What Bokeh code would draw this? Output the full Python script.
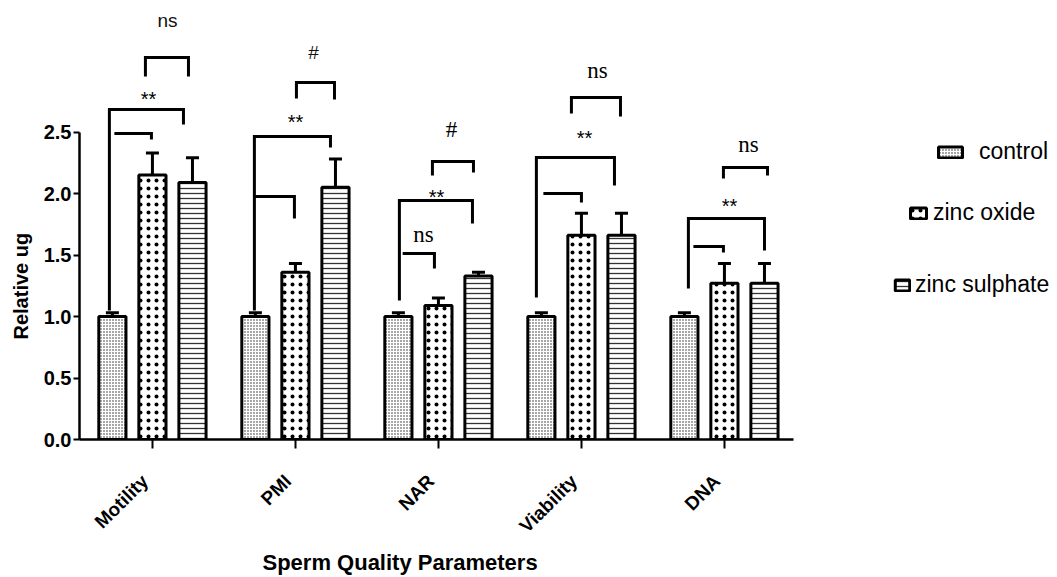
import math
from bokeh.plotting import figure
from bokeh.models import (ColumnDataSource, Range1d, FixedTicker, Whisker, TeeHead,
                          Legend, LegendItem, Title, NumeralTickFormatter)
from bokeh.core.properties import value
from bokeh.embed import file_html
from bokeh.resources import INLINE

# ---------------- data ----------------
categories = ["Motility", "PMI", "NAR", "Viability", "DNA"]
series_names = ["control", "zinc oxide", "zinc sulphate"]
control_mean = [1.00, 1.00, 1.00, 1.00, 1.00]
control_err = [0.03, 0.03, 0.03, 0.03, 0.03]
zno_mean = [2.15, 1.36, 1.09, 1.66, 1.27]
zno_err = [0.18, 0.07, 0.06, 0.18, 0.16]
znso4_mean = [2.09, 2.05, 1.33, 1.66, 1.27]
znso4_err = [0.20, 0.23, 0.03, 0.18, 0.16]
y_ticks = [0.0, 0.5, 1.0, 1.5, 2.0, 2.5]

# significance brackets: (x_left, x_right, y_top, y_left_end, y_right_end)
brackets = [
    (-0.049, 0.252, 3.106, 2.951, 2.951),
    (-0.301, 0.217, 2.683, 1.049, 2.561),
    (-0.266, -0.007, 2.488, 2.488, 2.439),
    (1.007, 1.273, 2.902, 2.772, 2.764),
    (0.713, 1.245, 2.463, 1.049, 2.374),
    (0.713, 0.993, 1.976, 1.976, 1.797),
    (1.958, 2.245, 2.260, 2.146, 2.171),
    (1.727, 2.238, 1.943, 1.130, 1.756),
    (1.750, 1.972, 1.512, 1.512, 1.390),
    (2.930, 3.273, 2.780, 2.650, 2.626),
    (2.685, 3.231, 2.293, 1.154, 2.065),
    (2.734, 3.000, 2.000, 2.000, 1.927),
    (3.993, 4.301, 2.211, 2.122, 2.146),
    (3.748, 4.280, 1.797, 1.228, 1.537),
    (3.783, 3.993, 1.569, 1.569, 1.520),
]
star_labels = ["**", "**", "**", "**", "**"]
star_x = [-0.028, 1.000, 1.986, 3.021, 4.035]
star_y = [2.813, 2.618, 2.016, 2.488, 1.935]
sans_labels = ["ns", "#"]
sans_x = [0.105, 1.126]
sans_y = [3.407, 3.146]
serif_labels = ["#", "ns", "ns", "ns"]
serif_x = [2.091, 1.895, 3.112, 4.168]
serif_y = [2.520, 1.667, 3.000, 2.398]

# ---------------- layout ----------------
W, H = 1055, 575
FL = 79          # frame left (canvas px)
FB = 439         # frame bottom (canvas px)
PX_X = 143.0
PX_Y = 123.0
x_start = -0.51
x_end = x_start + (W - FL) / PX_X
y_end = FB / PX_Y

p = figure(width=W, height=H, x_range=Range1d(x_start, x_end), y_range=Range1d(0, y_end),
           output_backend="svg", toolbar_location=None,
           min_border_left=FL, min_border_right=0, min_border_top=0, min_border_bottom=H - FB)
p.outline_line_color = None
p.xgrid.visible = False
p.ygrid.visible = False
p.background_fill_color = "white"

FONT = "Liberation Sans"

offsets = [-0.28, 0.0, 0.28]
means = [control_mean, zno_mean, znso4_mean]
errs = [control_err, zno_err, znso4_err]
hatches = [dict(hatch_pattern="dot", hatch_scale=3, hatch_weight=3, hatch_color="#222222"),
           dict(hatch_pattern="dot", hatch_scale=8, hatch_weight=5, hatch_color="black"),
           dict(hatch_pattern="horizontal_line", hatch_scale=5, hatch_weight=1.3, hatch_color="#333333")]

renderers = []
for k in range(3):
    xs = [i + offsets[k] for i in range(len(categories))]
    src = ColumnDataSource(dict(x=xs, top=means[k],
                                upper=[m + e for m, e in zip(means[k], errs[k])]))
    w = Whisker(base="x", upper="upper", lower="top", source=src, dimension="height",
                line_color="black", line_width=3,
                upper_head=TeeHead(size=13, line_width=3, line_color="black"), lower_head=None)
    p.add_layout(w)
    r = p.vbar(x="x", top="top", width=0.19, bottom=0, source=src, fill_color="white",
               line_color="black", line_width=3, **hatches[k])
    renderers.append(r)

# brackets
bxs, bys = [], []
for (xl, xr, yt, yl, yr) in brackets:
    bxs.append([xl, xl, xr, xr])
    bys.append([yl, yt, yt, yr])
p.multi_line(bxs, bys, line_color="black", line_width=3, line_join="miter", line_cap="butt")

p.text(star_x, star_y, text=star_labels, text_align="center", text_baseline="middle",
       text_font=value(FONT), text_font_size="20px", text_color="black", y_offset=5)
p.text(sans_x, sans_y, text=sans_labels, text_align="center", text_baseline="middle",
       text_font=value(FONT), text_font_size="19px", text_color="#111111")
p.text(serif_x, serif_y, text=serif_labels, text_align="center", text_baseline="middle",
       text_font=value("Liberation Serif"), text_font_size="23px", text_color="black")

# axes
for ax in (p.xaxis[0], p.yaxis[0]):
    ax.axis_line_width = 2.5
    ax.major_tick_line_width = 2
    ax.minor_tick_line_color = None
    ax.major_tick_in = 0
    ax.major_label_text_font = FONT
    ax.major_label_text_font_style = "bold"
    ax.major_label_text_color = "black"

NB = "\u00a0\u00a0"
p.xaxis.ticker = FixedTicker(ticks=list(range(len(categories))))
p.xaxis.major_label_overrides = {i: c + NB for i, c in enumerate(categories)}
p.xaxis.bounds = (x_start, 4.48)
p.xaxis.major_label_orientation = math.pi / 4
p.xaxis.major_tick_out = 9
p.xaxis.major_label_text_font_size = "19px"
p.xaxis.major_label_standoff = 22

p.yaxis.ticker = FixedTicker(ticks=y_ticks)
p.yaxis.formatter = NumeralTickFormatter(format="0.0")
p.yaxis.bounds = (0, 2.5)
p.yaxis.major_tick_out = 6
p.yaxis.major_label_text_font_size = "20px"
p.yaxis.major_label_standoff = 2

# axis titles
p.add_layout(Title(text="Relative ug", align="left", offset=100, standoff=14,
                   vertical_align="top",
                   text_font=FONT, text_font_style="bold", text_font_size="20px",
                   text_color="black"), "left")
p.add_layout(Title(text="Sperm Quality Parameters", align="left", offset=262 - FL,
                   standoff=0, text_font=FONT, text_font_style="bold", text_font_size="22px",
                   text_color="black"), "below")

# legends (one per entry to mimic the original placement)
leg_specs = [(856, 274, 30, 14), (829, 213, 20, 5), (814, 141, 18, 4)]
for k, (lx, ly, gw, so) in enumerate(leg_specs):
    leg = Legend(items=[LegendItem(label=series_names[k], renderers=[renderers[k]])],
                 location=(lx, ly), glyph_width=gw, glyph_height=14, label_height=20,
                 label_standoff=so, padding=0, margin=0, spacing=0,
                 border_line_color=None, background_fill_alpha=0,
                 label_text_font=FONT, label_text_font_size="23px", label_text_color="black")
    p.add_layout(leg)

open("out.html", "w").write(file_html(p, INLINE))
